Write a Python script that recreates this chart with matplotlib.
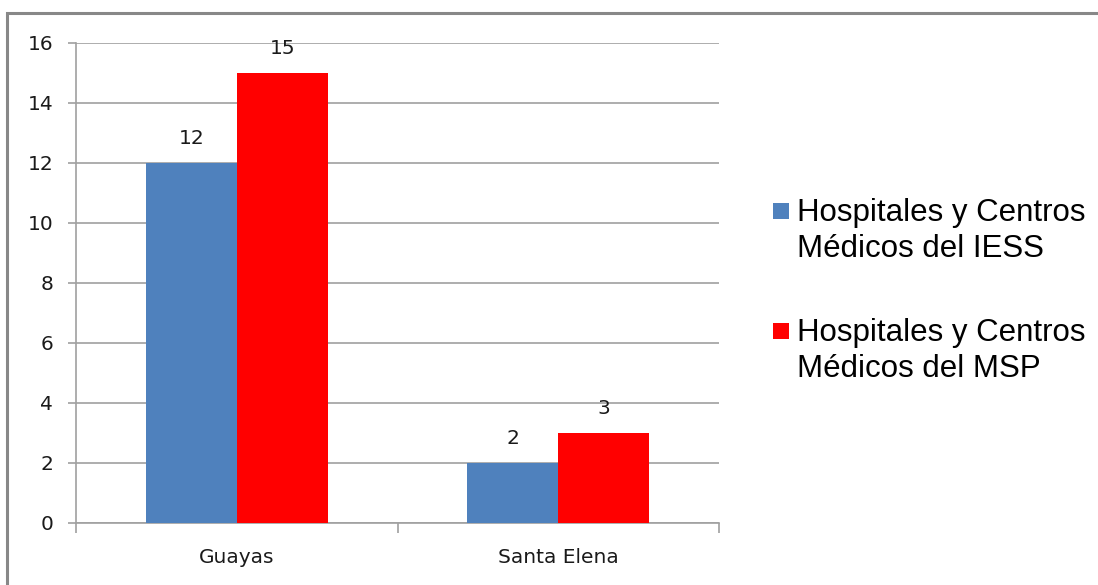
import matplotlib.pyplot as plt
from matplotlib.patches import Rectangle
import numpy as np

# data
categories = ['Guayas', 'Santa Elena']
iess_values = [12, 2]
msp_values = [15, 3]
series_labels = [['Hospitales y Centros', 'Médicos del IESS'],
                 ['Hospitales y Centros', 'Médicos del MSP']]
yticks = [0, 2, 4, 6, 8, 10, 12, 14, 16]

blue = '#4F81BD'
red = '#FF0000'
grid_gray = '#A0A0A0'
tick_font = 'DejaVu Sans'

W, H = 1098, 585
fig = plt.figure(figsize=(W / 100, H / 100), dpi=100)

# outer border (only top and left visible in the picture)
fig.patches.append(Rectangle((7 / W, -0.1), 1.2, 1 - 13 / H + 0.1,
                             transform=fig.transFigure, fill=False,
                             edgecolor='#888888', linewidth=2.2))

ax = fig.add_axes([76 / W, 1 - 523 / H, (719 - 76) / W, (523 - 43) / H])

x = np.arange(len(categories))
bw = 0.283
b1 = ax.bar(x - bw / 2, iess_values, bw, color=blue, zorder=3)
b2 = ax.bar(x + bw / 2, msp_values, bw, color=red, zorder=3)

for bars, vals in ((b1, iess_values), (b2, msp_values)):
    for rect, v in zip(bars, vals):
        ax.annotate(str(v), (rect.get_x() + rect.get_width() / 2, v),
                    xytext=(0, 11), textcoords='offset points',
                    ha='center', va='bottom', fontsize=14.5,
                    family=tick_font, color='#1a1a1a')

ax.set_xlim(-0.5, 1.5)
ax.set_ylim(0, 16)
ax.set_yticks(yticks)
ax.set_yticklabels([str(t) for t in yticks], fontsize=14.5, family=tick_font,
                   color='#1a1a1a')
ax.set_xticks(x)
ax.set_xticklabels(categories, fontsize=14.5, family=tick_font, color='#1a1a1a')
ax.set_xticks([-0.5, 0.5, 1.5], minor=True)
ax.tick_params(axis='x', which='major', length=0, pad=18)
ax.tick_params(axis='x', which='minor', length=7.5, color=grid_gray, width=1.2)
ax.tick_params(axis='y', length=6, color=grid_gray, width=1.2, pad=10.5)

ax.yaxis.grid(True, color=grid_gray, linewidth=1.2, zorder=0)
ax.set_axisbelow(True)
for s in ('top', 'right'):
    ax.spines[s].set_visible(False)
for s in ('left', 'bottom'):
    ax.spines[s].set_color(grid_gray)
    ax.spines[s].set_linewidth(1.2)

# legend drawn by hand
legend_rows = [(blue, [221, 257]), (red, [341, 377])]
for (color, baselines), lines in zip(legend_rows, series_labels):
    sq_top = baselines[0] - 18
    fig.patches.append(Rectangle((773 / W, 1 - (sq_top + 16) / H), 16 / W, 16 / H,
                                 transform=fig.transFigure, facecolor=color,
                                 edgecolor='none'))
    for base, line in zip(baselines, lines):
        fig.text(797 / W, 1 - base / H, line, fontsize=22.5,
                 family='Liberation Sans', va='baseline', ha='left')

fig.savefig('out.png', dpi=100)
